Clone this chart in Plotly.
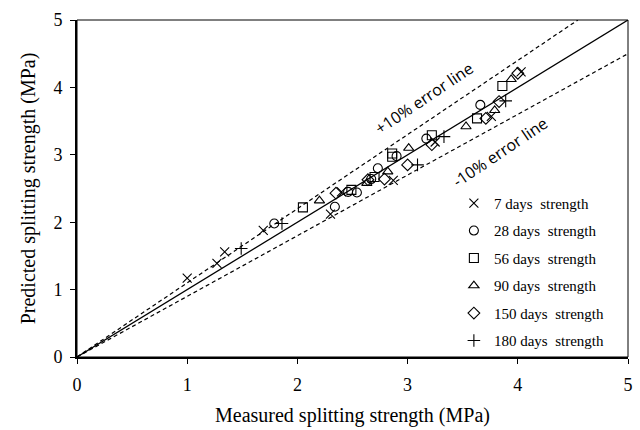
import plotly.graph_objects as go

# ---- data (Measured, Predicted) ----
d7_x = [1.00, 1.27, 1.34, 1.69, 2.30, 2.40, 2.87, 3.25, 3.76, 4.03]
d7_y = [1.17, 1.39, 1.56, 1.88, 2.12, 2.45, 2.62, 3.19, 3.57, 4.23]
d28_x = [1.79, 2.34, 2.46, 2.54, 2.67, 2.73, 2.90, 3.17, 3.66]
d28_y = [1.98, 2.23, 2.45, 2.44, 2.64, 2.80, 2.98, 3.24, 3.74]
d56_x = [2.05, 2.49, 2.70, 2.86, 2.86, 3.22, 3.63, 3.86]
d56_y = [2.22, 2.48, 2.67, 3.02, 2.97, 3.29, 3.54, 4.02]
d90_x = [2.20, 2.63, 2.82, 3.01, 3.53, 3.79, 3.94]
d90_y = [2.32, 2.58, 2.75, 3.10, 3.42, 3.66, 4.12]
d150_x = [2.35, 2.64, 2.79, 3.00, 3.22, 3.71, 3.83, 4.00]
d150_y = [2.43, 2.63, 2.64, 2.85, 3.15, 3.54, 3.79, 4.21]
d180_x = [1.49, 1.86, 3.09, 3.33, 3.89]
d180_y = [1.61, 1.98, 2.85, 3.27, 3.80]

series_names = ["7 days  strength", "28 days  strength", "56 days  strength",
                "90 days  strength", "150 days  strength", "180 days  strength"]
series_x = [d7_x, d28_x, d56_x, d90_x, d150_x, d180_x]
series_y = [d7_y, d28_y, d56_y, d90_y, d150_y, d180_y]
symbols = ["x-thin-open", "circle-open", "square-open", "triangle-up-open",
           "diamond-open", "cross-thin-open"]

line_x = [0, 5]
upper_x = [0, 5 / 1.1]
lower_x = [0, 5]
tick_vals = [0, 1, 2, 3, 4, 5]

fig = go.Figure()

fig.add_trace(go.Scatter(x=line_x, y=line_x, mode="lines",
                         line=dict(color="black", width=1.3), showlegend=False,
                         hoverinfo="skip"))
fig.add_trace(go.Scatter(x=upper_x, y=[v * 1.1 for v in upper_x], mode="lines",
                         line=dict(color="black", width=1.2, dash="4px,3px"),
                         showlegend=False, hoverinfo="skip"))
fig.add_trace(go.Scatter(x=lower_x, y=[v * 0.9 for v in lower_x], mode="lines",
                         line=dict(color="black", width=1.2, dash="4px,3px"),
                         showlegend=False, hoverinfo="skip"))

for i, (nm, xs, ys, sym) in enumerate(zip(series_names, series_x, series_y, symbols)):
    fig.add_trace(go.Scatter(
        x=xs, y=ys, mode="markers", name=nm, legendgroup=f"g{i}",
        marker=dict(symbol=sym, size=9, color="black",
                    line=dict(color="black", width=1.1)),
    ))

ann_font = dict(family="Open Sans, Liberation Sans", size=16, color="black")
fig.add_annotation(x=3.15, y=3.84, text="+10% error line", showarrow=False,
                   textangle=-34, font=ann_font)
fig.add_annotation(x=3.84, y=3.04, text="-10% error line", showarrow=False,
                   textangle=-34, font=ann_font)

fig.add_shape(type="rect", xref="paper", yref="paper", x0=0, y0=0, x1=1, y1=1,
              line=dict(color="black", width=1))

tick_font = dict(family="Liberation Serif, Times New Roman", size=18, color="black")
title_font = dict(family="Liberation Serif, Times New Roman", size=20, color="black")
fig.update_xaxes(range=[0, 5], tickvals=tick_vals, showgrid=False, zeroline=False,
                 showline=True, linewidth=2, linecolor="black",
                 ticks="outside", ticklen=5, tickcolor="black", tickwidth=1,
                 tickfont=tick_font, ticklabelstandoff=5,
                 title=dict(text="Measured splitting strength (MPa)", font=title_font, standoff=14))
fig.update_yaxes(range=[0, 5], tickvals=tick_vals, showgrid=False, zeroline=False,
                 showline=True, linewidth=2, linecolor="black",
                 ticks="outside", ticklen=5, tickcolor="black", tickwidth=1,
                 tickfont=tick_font, ticklabelstandoff=4,
                 title=dict(text="Predicted splitting strength (MPa)", font=title_font, standoff=12))

fig.update_layout(
    width=640, height=430,
    margin=dict(l=77, r=12, t=20, b=73, autoexpand=False),
    paper_bgcolor="white", plot_bgcolor="white",
    font=dict(family="Liberation Serif, Times New Roman", color="black"),
    legend=dict(x=0.684, y=0.505, xanchor="left", yanchor="top",
                font=dict(family="Liberation Serif, Times New Roman", size=15, color="black"),
                tracegroupgap=5, bgcolor="rgba(0,0,0,0)", borderwidth=0),
)

fig.write_html("out.html")
